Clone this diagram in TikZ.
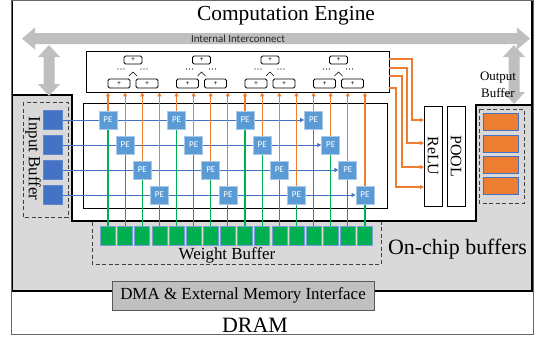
\documentclass[tikz,border=0pt]{standalone}
\usepackage{fontspec}
\setmainfont{Liberation Serif}
\newfontfamily\labelsans{Carlito}
\usetikzlibrary{arrows.meta}

\definecolor{chipgray}{HTML}{D9D9D9}
\definecolor{busgray}{HTML}{BFBFBF}
\definecolor{peblue}{HTML}{5B9BD5}
\definecolor{peedge}{HTML}{A9C8E8}
\definecolor{inblue}{HTML}{4472C4}
\definecolor{wgreen}{HTML}{00B050}
\definecolor{outorange}{HTML}{ED7D31}
\definecolor{dmagray}{HTML}{C0C0C0}

\pgfdeclarelayer{base}
\pgfdeclarelayer{wires}
\pgfsetlayers{base,wires,main}

\tikzset{
  thickborder/.style={draw=black, line width=2.6bp},
  dashbox/.style={draw=black!75, line width=0.9bp, dash pattern=on 4bp off 2.5bp},
  pe/.style={draw=peedge, fill=peblue, line width=0.8bp, minimum width=18bp,
    minimum height=18bp, inner sep=0pt, text=white,
    font=\labelsans\fontsize{9}{9}\selectfont},
  inbuf/.style={fill=inblue, draw=inblue!85!white, line width=0.6bp,
    minimum width=19bp, minimum height=19bp, inner sep=0pt},
  wbuf/.style={fill=wgreen, draw=inblue!70, line width=0.6bp,
    minimum width=15bp, minimum height=19bp, inner sep=0pt},
  obuf/.style={fill=outorange, draw=inblue, line width=0.8bp,
    minimum width=35bp, minimum height=17bp, inner sep=0pt},
  addbox/.style={draw=black, rounded corners=1.5bp, line width=0.8bp,
    inner sep=0pt, font=\labelsans\fontsize{7}{7}\selectfont},
  unitbox/.style={draw=black, line width=0.8bp, minimum width=18bp,
    minimum height=100bp, inner sep=0pt, fill=white},
  unitlabel/.style={rotate=-90, font=\fontsize{16}{16}\selectfont},
  psum/.style={draw=outorange, line width=1.1bp, -{Triangle[length=4bp,width=4bp]}},
  wline/.style={draw=wgreen, line width=1.1bp},
  actline/.style={draw=inblue, line width=0.9bp, -{Triangle[length=4bp,width=4bp]}},
  bus/.style={fill=busgray, draw=none}
}

\begin{document}
\begin{tikzpicture}[x=1bp, y=-1bp]
\useasboundingbox (0,0) rectangle (537,339);

\begin{pgfonlayer}{base}
  \fill[white] (0,0) rectangle (537,339);
  % on-chip buffer region
  \fill[chipgray] (12,0) rectangle (532,291);
  % computation engine region
  \fill[white] (12,0) -- (532,0) -- (532,105) -- (476,105)
     -- (476,221) -- (72,221) -- (72,95) -- (12,95) -- cycle;
  \draw[thickborder] (12,95) -- (72,95) -- (72,221) -- (476,221) -- (476,105) -- (532,105);
  \draw[thickborder] (12,0) -- (12,291) -- (532,291) -- (532,0);
  % DRAM outline
  \draw[draw=black!60, line width=0.8bp] (11,0.6) rectangle (533,334);
  % internal interconnect bus
  \path[bus] (22,38.5) -- (35,27.5) -- (35,33) -- (517,33) -- (517,27.5)
     -- (530,38.5) -- (517,49.5) -- (517,44) -- (35,44) -- (35,49.5) -- cycle;
  % bus drops to the input and output buffers
  \path[bus] (49,45) -- (60,57) -- (54.5,57) -- (54.5,84) -- (60,84) -- (49,96)
     -- (38,84) -- (43.5,84) -- (43.5,57) -- (38,57) -- cycle;
  \path[bus] (514,45) -- (525,57) -- (519.5,57) -- (519.5,92) -- (525,92) -- (514,104)
     -- (503,92) -- (508.5,92) -- (508.5,57) -- (503,57) -- cycle;
  % adder tree panel and PE array frame
  \node[draw, fill=white, line width=0.9bp, minimum width=303bp, minimum height=41bp,
        inner sep=0pt] (adders) at (237.5,71.5) {};
  \draw[line width=0.8bp] (83,103) rectangle (387,208);
  % buffer outlines
  \draw[dashbox] (23,102) rectangle (68,217);
  \draw[dashbox] (479,109) rectangle (524,203);
  \draw[dashbox] (92,222) -- (92,264) -- (381,264) -- (381,222);
\end{pgfonlayer}

% adder trees
\foreach \k in {0,...,3} {
  \pgfmathsetmacro\c{133+68.5*\k}
  \node[addbox, minimum width=18bp, minimum height=8bp] (at\k) at (\c,60) {+};
  \node[addbox, minimum width=22bp, minimum height=9bp] (al\k) at (\c-14,83.5) {+};
  \node[addbox, minimum width=22bp, minimum height=9bp] (ar\k) at (\c+14,83.5) {+};
  \foreach \d in {-15,-12,-9,8,11,14}
    \fill (\c+\d,69) circle (0.55bp);
  \draw[line width=0.6bp] (\c-4,76) -- (\c,72) -- (\c+4,76);
}

% input buffer
\foreach \r in {0,...,3}
  \node[inbuf] (in\r) at (52.5,120+25*\r) {};

% output buffer
\foreach \r/\yy in {0/121.5,1/143.5,2/164.5,3/185.5}
  \node[obuf] (out\r) at (500.5,\yy) {};

% processing elements and weight buffer
\foreach \i in {0,...,15} {
  \pgfmathsetmacro\px{108+17.13*\i}
  \pgfmathtruncatemacro\r{mod(\i,4)}
  \node[pe] (pe\i) at (\px,120+25*\r) {PE};
  \node[wbuf] (w\i) at (\px,236) {};
}

% activation units
\node[unitbox] (relu) at (433,156) {};
\node[unitlabel] at (relu.center) {ReLU};
\node[unitbox] (pool) at (456,156) {};
\node[unitlabel] at (pool.center) {POOL};

% wiring
\begin{pgfonlayer}{wires}
  \foreach \r in {0,...,3} {
    \pgfmathtruncatemacro\last{12+\r}
    \draw[actline] (in\r.east) -- (pe\last.west);
  }
  \foreach \i in {0,...,15} {
    \draw[wline] (pe\i.south) -- (w\i.north);
    \draw[psum] (pe\i.north) -- (pe\i.north |- adders.south);
  }
  \foreach \ya/\xb/\yb in {59/412/120, 68/407/143, 76/402/167, 88/396/187} {
    \coordinate (src) at (389,\ya);
    \coordinate (dst) at (424,\yb);
    \draw[psum] (src) -- (\xb,\ya) -- (\xb,\yb) -- (dst);
  }
\end{pgfonlayer}

% labels
\node[font=\fontsize{21.5}{22}\selectfont] (cetitle) at (286,16) {Computation Engine};
\node[font=\labelsans\fontsize{11}{11}\selectfont, text=black!85] (bustitle) at (238,38.5) {Internal Interconnect};
\node[rotate=-90, font=\fontsize{17}{17}\selectfont] (intitle) at (33,158.5) {Input Buffer};
\node[font=\fontsize{13}{13}\selectfont] (outtitle1) at (498,78) {Output};
\node[font=\fontsize{13}{13}\selectfont] (outtitle2) at (498,93) {Buffer};
\node[font=\fontsize{17}{17}\selectfont] (wtitle) at (227,255) {Weight Buffer};
\node[font=\fontsize{22}{22}\selectfont] (ocbtitle) at (457.5,249) {On-chip buffers};
\node[draw=black!65, fill=dmagray, line width=0.9bp, minimum width=262bp, minimum height=29bp,
      inner sep=0pt, font=\fontsize{17}{17}\selectfont] (dma) at (243,295.5)
      {DMA \& External Memory Interface};
\node[font=\fontsize{22}{22}\selectfont] (dram) at (255,325) {DRAM};
\end{tikzpicture}
\end{document}
